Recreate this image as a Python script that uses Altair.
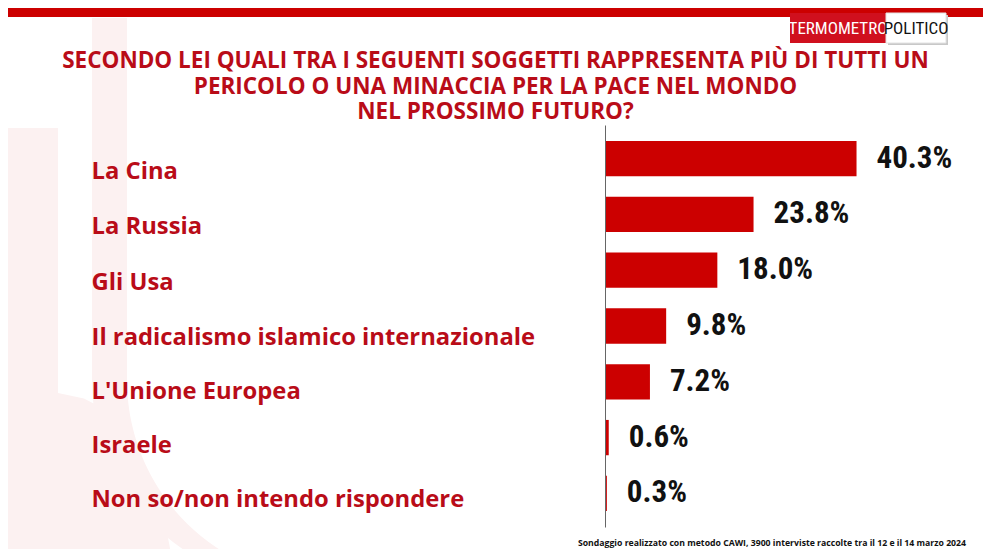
import json
import math
import altair as alt
import pandas as pd

# ---------------- data ----------------
CATEGORIES = [
    "La Cina",
    "La Russia",
    "Gli Usa",
    "Il radicalismo islamico internazionale",
    "L'Unione Europea",
    "Israele",
    "Non so/non intendo rispondere",
]
VALUES = [40.3, 23.8, 18.0, 9.8, 7.2, 0.6, 0.3]
TITLE_LINES = [
    "SECONDO LEI QUALI TRA I SEGUENTI SOGGETTI RAPPRESENTA PIÙ DI TUTTI UN",
    "PERICOLO O UNA MINACCIA PER LA PACE NEL MONDO",
    "NEL PROSSIMO FUTURO?",
]
FOOTER = "Sondaggio realizzato con metodo CAWI, 3900 interviste raccolte tra il 12 e il 14 marzo 2024"
LOGO_LEFT = "TERMOMETRO"
LOGO_RIGHT = "POLITICO"

# ---------------- style ----------------
RED_BAR = "#cc0000"
RED_TEXT = "#b90c18"
PINK = "#fcf1f1"
LABEL_FONT = "Open Sans"
NUM_FONT = "'Roboto Condensed', 'Liberation Sans Narrow', 'DejaVu Sans Condensed', sans-serif"
LABEL_SHIFTS = [13.3, 13.0, 12.3, 12.0, 10.4, 8.4, 6.4]  # vertical nudge of each row label

PAD_L, PAD_T, PAD_R, PAD_B = 597, 117, 16, 22
PLOT_W, PLOT_H = 362, 402
OX, OY = 8 + PAD_L, 8 + PAD_T  # page position of plot origin


def px(x):
    return x - OX


def py(y):
    return y - OY


# ---------------- decorative background path ----------------
CX, CY, HALF = 495.5, 278.5, 495.5


def norm(pts):
    return " ".join(
        ("M" if i == 0 else "L") + f"{(x - CX) / HALF:.4f},{(y - CY) / HALF:.4f}"
        for i, (x, y) in enumerate(pts)
    ) + " Z"


def ell_left(cx, cy, rx, ry, y0, y1, n=30):
    out = []
    for i in range(n + 1):
        y = y0 + (y1 - y0) * i / n
        t = max(0.0, 1 - ((y - cy) / ry) ** 2)
        out.append((cx - rx * math.sqrt(t), y))
    return out


def ell_right(cx, cy, rx, ry, y0, y1, n=30):
    out = []
    for i in range(n + 1):
        y = y0 + (y1 - y0) * i / n
        t = max(0.0, 1 - ((y - cy) / ry) ** 2)
        out.append((cx + rx * math.sqrt(t), y))
    return out


stem = [(92, 18), (127, 18), (127, 380)]
stem += ell_left(327, 380, 200, 201, 380, 560)
stem += list(reversed(ell_left(312, 380, 220, 209, 380, 560)))
stem += [(92, 380)]

bowl = [(8, 128), (58, 128), (58, 393)]
bowl += ell_right(58, 620, 118, 227, 393, 560)
bowl += [(8, 560)]

DECO_PATH = norm(stem) + " " + norm(bowl)

# ---------------- chart ----------------
df = pd.DataFrame({"cat": CATEGORIES, "value": VALUES})
one = pd.DataFrame({"k": [0]})

ysc = alt.Scale(paddingInner=0.367, paddingOuter=0.286)

label_offset = {
    "condition": [
        {"test": f"datum.value === {json.dumps(c)}", "value": s}
        for c, s in zip(CATEGORIES, LABEL_SHIFTS)
    ],
    "value": 10,
}

deco = alt.Chart(one).mark_point(
    shape=DECO_PATH, filled=True, color=PINK, opacity=1, strokeWidth=0, size=991 * 991
).encode(x=alt.value(px(CX)), y=alt.value(py(CY)))

band = alt.Chart(one).mark_rect(color="#cc0000").encode(
    x=alt.value(px(0)), x2=alt.value(px(991)), y=alt.value(py(5)), y2=alt.value(py(17))
)

logo_red = alt.Chart(one).mark_rect(color="#d0101e").encode(
    x=alt.value(px(790)), x2=alt.value(px(886)), y=alt.value(py(13)), y2=alt.value(py(43))
)
logo_shadow = alt.Chart(one).mark_rect(color="#c8c8c8").encode(
    x=alt.value(px(888)), x2=alt.value(px(948)), y=alt.value(py(15)), y2=alt.value(py(45))
)
logo_white = alt.Chart(one).mark_rect(color="white", stroke="#e2e2e2", strokeWidth=1).encode(
    x=alt.value(px(886)), x2=alt.value(px(946)), y=alt.value(py(13)), y2=alt.value(py(43))
)
logo_t1 = alt.Chart(one).mark_text(
    font=NUM_FONT, fontSize=17, color="white", align="center", baseline="middle"
).encode(x=alt.value(px(838)), y=alt.value(py(29)), text=alt.value(LOGO_LEFT))
logo_t2 = alt.Chart(one).mark_text(
    font=NUM_FONT, fontSize=17, color="#111111", align="center", baseline="middle"
).encode(x=alt.value(px(916)), y=alt.value(py(29)), text=alt.value(LOGO_RIGHT))

title = alt.Chart(one).mark_text(
    font=LABEL_FONT, fontWeight="bold", fontSize=22.5, color=RED_TEXT,
    align="center", baseline="alphabetic", lineBreak="\n", lineHeight=25.5,
).encode(x=alt.value(px(495.5)), y=alt.value(py(68)), text=alt.value("\n".join(TITLE_LINES)))

bars = alt.Chart(df).mark_bar(color=RED_BAR).encode(
    y=alt.Y(
        "cat:N", sort=CATEGORIES, title=None, scale=ysc,
        axis=alt.Axis(
            domain=True, domainColor="#666666", domainWidth=1, ticks=False, grid=False,
            labelAlign="left", labelPadding=514, labelLimit=700, labelFont=LABEL_FONT,
            labelFontWeight="bold", labelFontSize=23.8, labelColor=RED_TEXT,
            labelOffset=label_offset, zindex=1,
        ),
    ),
    x=alt.X("value:Q", scale=alt.Scale(domain=[0, 58], nice=False), axis=None),
)

vals = alt.Chart(df).transform_calculate(
    lbl="format(datum.value, '.1f') + '%'"
).mark_text(
    align="left", baseline="middle", dx=20, font=NUM_FONT, fontWeight="bold",
    fontSize=31, color="#111111",
).encode(
    y=alt.Y("cat:N", sort=CATEGORIES, scale=ysc),
    x=alt.X("value:Q"),
    text="lbl:N",
)

footer = alt.Chart(one).mark_text(
    font=LABEL_FONT, fontWeight="bold", fontSize=8.7, color="#111111",
    align="right", baseline="alphabetic",
).encode(x=alt.value(px(966)), y=alt.value(py(546)), text=alt.value(FOOTER))

chart = alt.layer(
    deco, band, logo_red, logo_shadow, logo_white, logo_t1, logo_t2, title, bars, vals, footer
).properties(
    width=PLOT_W,
    height=PLOT_H,
    padding={"left": PAD_L, "top": PAD_T, "right": PAD_R, "bottom": PAD_B},
    autosize=alt.AutoSizeParams(type="none"),
    background="white",
).configure_view(stroke=None)

chart.save("out.html", embed_options={"renderer": "svg", "actions": False})
